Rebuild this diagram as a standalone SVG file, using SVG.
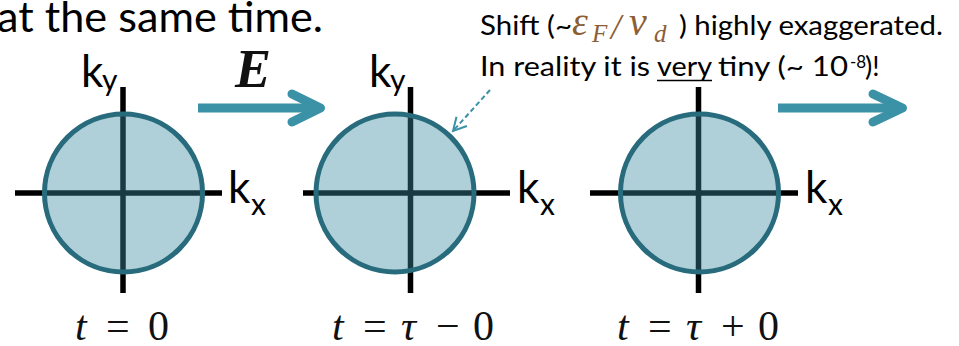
<svg xmlns="http://www.w3.org/2000/svg" width="959" height="346" viewBox="0 0 959 346">
<style>
.sans{font-family:Lato,"Open Sans","Liberation Sans",sans-serif;fill:#000}
.axis{stroke:#000;stroke-width:5.5;fill:none}
.fs{fill:#3d8da1;fill-opacity:0.41;stroke:#276b7d;stroke-width:5}
.big{stroke:#3b92a6;stroke-width:9;fill:none;stroke-linejoin:round}
.k{font-size:44px}
.sub{font-size:30px}
.math{font-family:"Liberation Serif","Times New Roman",serif;font-size:42px;fill:#111}
.it{font-style:italic}
.eq{font-family:"Liberation Serif","Times New Roman",serif;font-style:italic;fill:#8b5e34}
</style>
<defs>
<marker id="open" markerUnits="userSpaceOnUse" markerWidth="16" markerHeight="16" refX="14" refY="8" orient="auto" viewBox="0 0 16 16">
<path d="M1,1 L14,8 L1,15" fill="none" stroke="#3b92a6" stroke-width="2"/>
</marker>
</defs>
<rect width="959" height="346" fill="#fff"/>
<text class="sans" x="-3" y="32" font-size="42" textLength="326" lengthAdjust="spacingAndGlyphs">at the same time.</text>

<g id="fs0">
<line class="axis" x1="15" y1="193" x2="222" y2="193"/>
<line class="axis" x1="123" y1="87" x2="123" y2="293"/>
<circle class="fs" cx="123.5" cy="193" r="79"/>
<text class="sans k" x="81" y="87">k</text><text class="sans sub" x="102" y="91">y</text>
<text class="sans k" x="228" y="203">k</text><text class="sans sub" x="251" y="215">x</text>
<text class="math" y="340"><tspan class="it" x="75">t</tspan><tspan x="106">=</tspan><tspan x="148">0</tspan></text>
</g>

<g id="fs1">
<line class="axis" x1="303" y1="193" x2="510" y2="193"/>
<line class="axis" x1="410.5" y1="87" x2="410.5" y2="293"/>
<circle class="fs" cx="395" cy="193" r="79"/>
<text class="sans k" x="369" y="87">k</text><text class="sans sub" x="390" y="91">y</text>
<text class="sans k" x="517" y="203">k</text><text class="sans sub" x="540" y="215">x</text>
<text class="math" y="340"><tspan class="it" x="332">t</tspan><tspan x="363">=</tspan><tspan class="it" x="401">τ</tspan><tspan x="436">−</tspan><tspan x="473">0</tspan></text>
</g>

<g id="fs2">
<line class="axis" x1="590" y1="193" x2="798" y2="193"/>
<line class="axis" x1="698.5" y1="87" x2="698.5" y2="293"/>
<circle class="fs" cx="699.5" cy="193" r="79"/>
<text class="sans k" x="805" y="203">k</text><text class="sans sub" x="828" y="215">x</text>
<text class="math" y="340"><tspan class="it" x="617">t</tspan><tspan x="648">=</tspan><tspan class="it" x="686">τ</tspan><tspan x="721">+</tspan><tspan x="758">0</tspan></text>
</g>

<g id="connectors">
<path class="big" d="M198,108 H320"/>
<path class="big" d="M292,94 L320.5,108 L292,122" stroke-linecap="round"/>
<path class="big" d="M778,108 H902"/>
<path class="big" d="M873,94 L902.5,108 L873,122" stroke-linecap="round"/>
<line x1="490" y1="90" x2="453" y2="131" stroke="#3b92a6" stroke-width="2" stroke-dasharray="5,3" marker-end="url(#open)"/>
</g>

<text x="235" y="87" font-family="'Liberation Serif','Times New Roman',serif" font-weight="bold" font-style="italic" font-size="54" fill="#111">E</text>

<g id="note">
<text class="sans" x="480" y="35" font-size="27" textLength="92" lengthAdjust="spacingAndGlyphs">Shift (~</text>
<text class="eq" x="572" y="35" font-size="40">ε</text>
<text class="eq" x="592" y="42" font-size="25">F</text>
<text class="eq" x="611" y="39" font-size="36" font-style="normal">/</text>
<text class="eq" x="629" y="35" font-size="40">v</text>
<text class="eq" x="654" y="42" font-size="25">d</text>
<text class="sans" x="679" y="35" font-size="27" textLength="264" lengthAdjust="spacingAndGlyphs">) highly exaggerated.</text>
<text class="sans" x="480" y="76" font-size="27" textLength="170" lengthAdjust="spacingAndGlyphs">In reality it is</text>
<text class="sans" x="657" y="76" font-size="27" textLength="55" lengthAdjust="spacingAndGlyphs">very</text>
<line x1="657" y1="80.5" x2="712" y2="80.5" stroke="#000" stroke-width="1.5"/>
<text class="sans" x="718" y="76" font-size="27" textLength="130" lengthAdjust="spacingAndGlyphs">tiny (~ 10</text>
<text class="sans" x="850" y="68" font-size="17">-8</text>
<text class="sans" x="865" y="76" font-size="27">)!</text>
</g>
</svg>
